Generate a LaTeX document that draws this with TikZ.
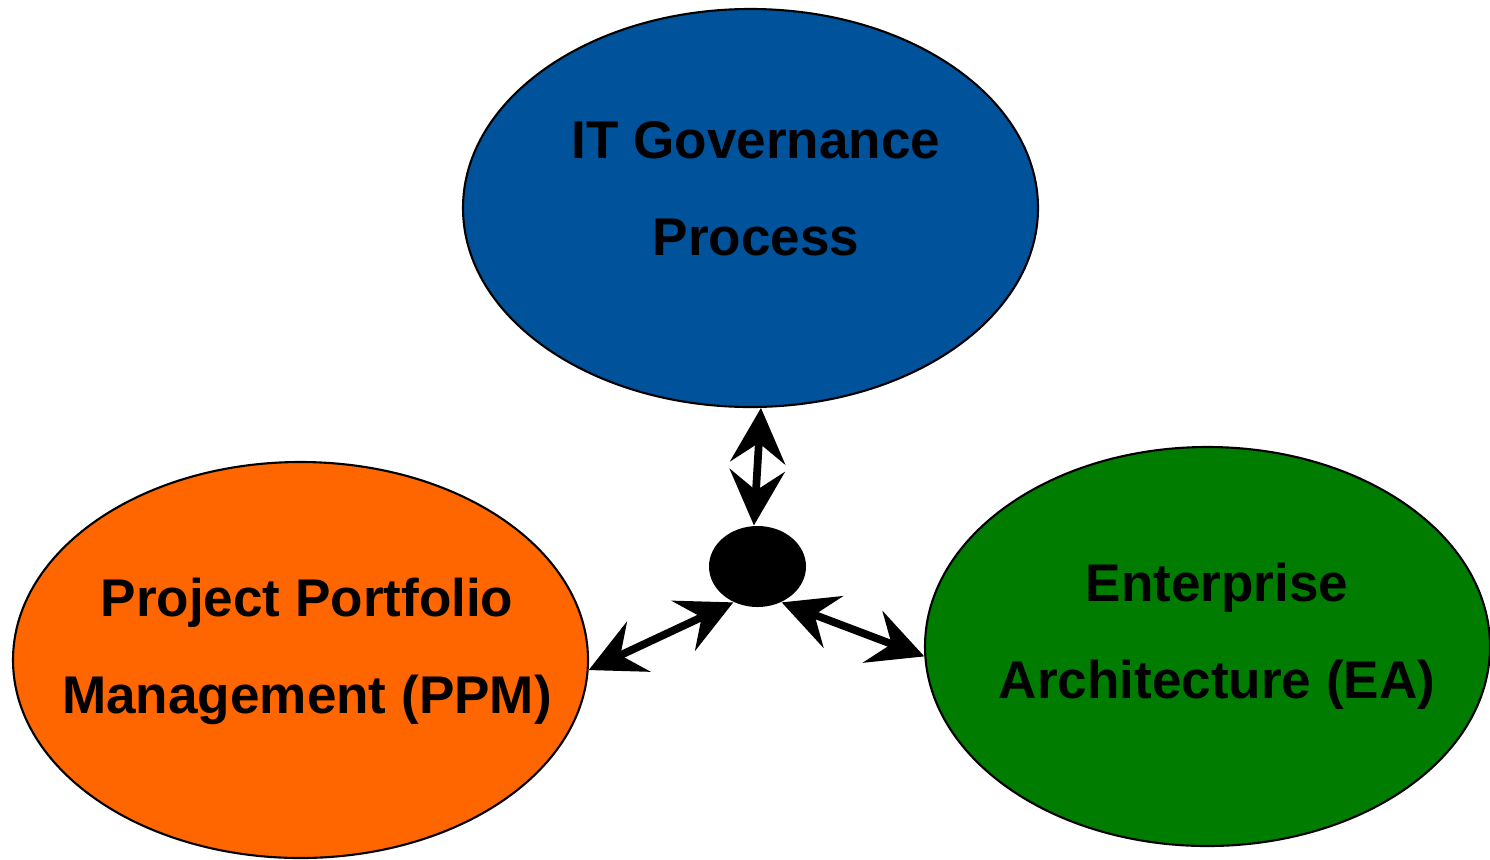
\documentclass[tikz,border=0pt]{standalone}
\usepackage{fontspec}
\setmainfont{Liberation Sans}
\usepackage{tikz}
\usetikzlibrary{shapes.geometric}
\usetikzlibrary{arrows.meta}
\usepackage{xcolor}
\definecolor{govblue}{RGB}{0,82,155}
\definecolor{ppmorange}{RGB}{255,102,0}
\definecolor{eagreen}{RGB}{0,124,0}
\tikzset{
  bubble/.style={ellipse, draw=black, line width=0.6pt, inner sep=0pt},
  bubbletext/.style={align=center, font=\fontsize{15.1}{27.6}\selectfont\bfseries},
  link/.style={line width=2.2pt, {Stealth[length=5.5mm,width=5.5mm,inset=2mm]}-{Stealth[length=5.5mm,width=5.5mm,inset=2mm]}}
}
\begin{document}
\begin{tikzpicture}
\useasboundingbox (0,0) rectangle (14.90,8.59);
\node [bubble, fill=govblue, minimum width=5.75cm, minimum height=3.98cm] (gov) at (7.505,6.51) {};
\node [bubble, fill=ppmorange, minimum width=5.75cm, minimum height=3.96cm] (ppm) at (3.005,1.99) {};
\node [bubble, fill=eagreen, minimum width=5.65cm, minimum height=3.99cm] (ea) at (12.075,2.125) {};
\node [ellipse, fill=black, inner sep=0pt, minimum width=0.97cm, minimum height=0.81cm] (hub) at (7.575,2.925) {};
\node [bubbletext] (govtext) at (7.56,6.70) {IT Governance\\Process};
\node [bubbletext] (ppmtext) at (3.07,2.08) {Project Portfolio\\Management (PPM)};
\node [bubbletext] (eatext) at (12.17,2.23) {Enterprise\\Architecture (EA)};
\draw [link] (gov.-87.3) -- (hub.95);
\draw [link] (hub.-124.9) -- (ppm.-2.4);
\draw [link] (hub.-56.1) -- (ea.182.3);
\end{tikzpicture}
\end{document}
